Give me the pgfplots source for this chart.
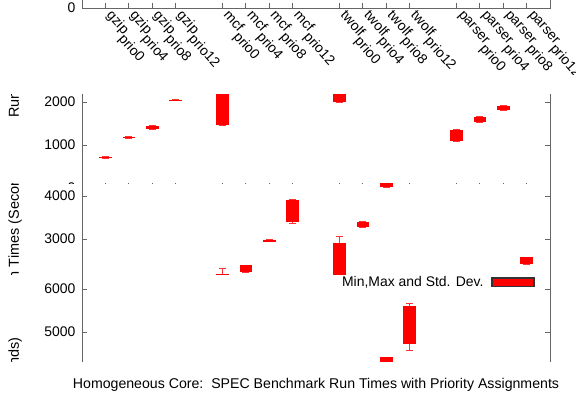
\documentclass[border=0pt]{standalone}
\usepackage{pgfplots}
\usepackage{pgfplotstable}
\pgfplotsset{compat=1.18}
\usepackage{fontspec}
\setmainfont{Liberation Sans}
\newcommand\fs{\fontsize{14}{16}\selectfont}
\newcommand\lab[2]{#1\raisebox{-7bp}{\fontsize{14}{15}\selectfont prio#2}}
% x: position, lw: min, lq: mean-sd, uq: mean+sd, uw: max
\pgfplotstableread{
x  lw   lq   uq   uw
1  688  692  728  732
2  1155 1160 1190 1195
3  1370 1378 1442 1450
4  2030 2035 2058 2062
6  1455 1465 2180 2320
7  2226 2235 2385 2395
8  2940 2945 2985 2990
9  3365 3402 3907 3930
11 2000 2007 2907 3070
12 3272 3285 3390 3402
13 4205 4215 4410 4420
14 4581 4721 5605 5674
16 1093 1100 1349 1365
17 1528 1535 1650 1658
18 1807 1815 1905 1914
19 2412 2420 2575 2581
}\data
\newcommand\chart[1]{%
\begin{axis}[
  at={(82bp,#1)}, anchor=south west, scale only axis,
  width=468bp, height=275.2bp,
  xmin=0, xmax=20, ymin=0, ymax=6400,
  xtick={1,2,3,4,6,7,8,9,11,12,13,14,16,17,18,19},
  xticklabels={\lab{gzip}{0},\lab{gzip}{4},\lab{gzip}{8},\lab{gzip}{12},
    \lab{mcf}{0},\lab{mcf}{4},\lab{mcf}{8},\lab{mcf}{12},
    \lab{twolf}{0},\lab{twolf}{4},\lab{twolf}{8},\lab{twolf}{12},
    \lab{parser}{0},\lab{parser}{4},\lab{parser}{8},\lab{parser}{12}},
  xtick pos=bottom,
  ytick={0,1000,2000,3000,4000,5000,6000},
  scaled y ticks=false,
  /pgf/number format/1000 sep={},
  /pgf/number format/assume math mode=true,
  tick align=inside, major tick length=5bp,
  axis line style={black!60, line width=0.9bp},
  tick style={black!60, line width=0.9bp},
  tick label style={font=\fs},
  yticklabel style={xshift=-3bp},
  xticklabel style={yshift=-7bp, rotate=-48, anchor=west, inner sep=1bp},
  ylabel={Run Times (Seconds)},
  ylabel style={font=\fontsize{14.5}{16}\selectfont, at={(axis description cs:-0.143,0.509)}, anchor=center},
  legend style={font=\fs, draw=none, fill=none, column sep=6bp,
    at={(axis description cs:0.974,0.9616)}, anchor=east},
  legend plot pos=right,
]
\addlegendimage{legend image code/.code={\draw[fill=red, draw=black!80, line width=1.2bp] (0bp,-4.3bp) rectangle (42bp,4.3bp);}}
\addlegendentry{Min,Max and Std. Dev.}
% whiskers (min to max)
\addplot[draw=none, mark=none, forget plot,
  error bars/.cd, y dir=both, y explicit,
  error bar style={draw=red!80, line width=0.7bp},
  error mark=|, error mark options={draw=red!80, mark size=3.5bp, line width=0.7bp}]
  table[x=x, y expr={(\thisrow{lw}+\thisrow{uw})/2}, y error expr={(\thisrow{uw}-\thisrow{lw})/2}] {\data};
% boxes (mean +- std dev)
\addplot[draw=none, mark=none, forget plot,
  error bars/.cd, y dir=both, y explicit,
  error bar style={draw=red, line width=12.6bp},
  error mark=none]
  table[x=x, y expr={(\thisrow{lq}+\thisrow{uq})/2}, y error expr={(\thisrow{uq}-\thisrow{lq})/2}] {\data};
\end{axis}}
\begin{document}
\begin{tikzpicture}
\useasboundingbox (0,0) rectangle (576bp,396bp);
\begin{scope}\clip (0,321bp) rectangle (576bp,396bp); \chart{388bp} \end{scope}
\begin{scope}\clip (0,212bp) rectangle (576bp,301bp); \chart{208bp} \end{scope}
\begin{scope}\clip (0,121bp) rectangle (576bp,212bp); \chart{28bp} \end{scope}
\begin{scope}\clip (0,34bp) rectangle (576bp,121bp); \chart{-151bp} \end{scope}
\node[font=\fontsize{14.2}{16}\selectfont] at (316bp,11.5bp) {Homogeneous Core:\ \ SPEC Benchmark Run Times with Priority Assignments};
\end{tikzpicture}
\end{document}
